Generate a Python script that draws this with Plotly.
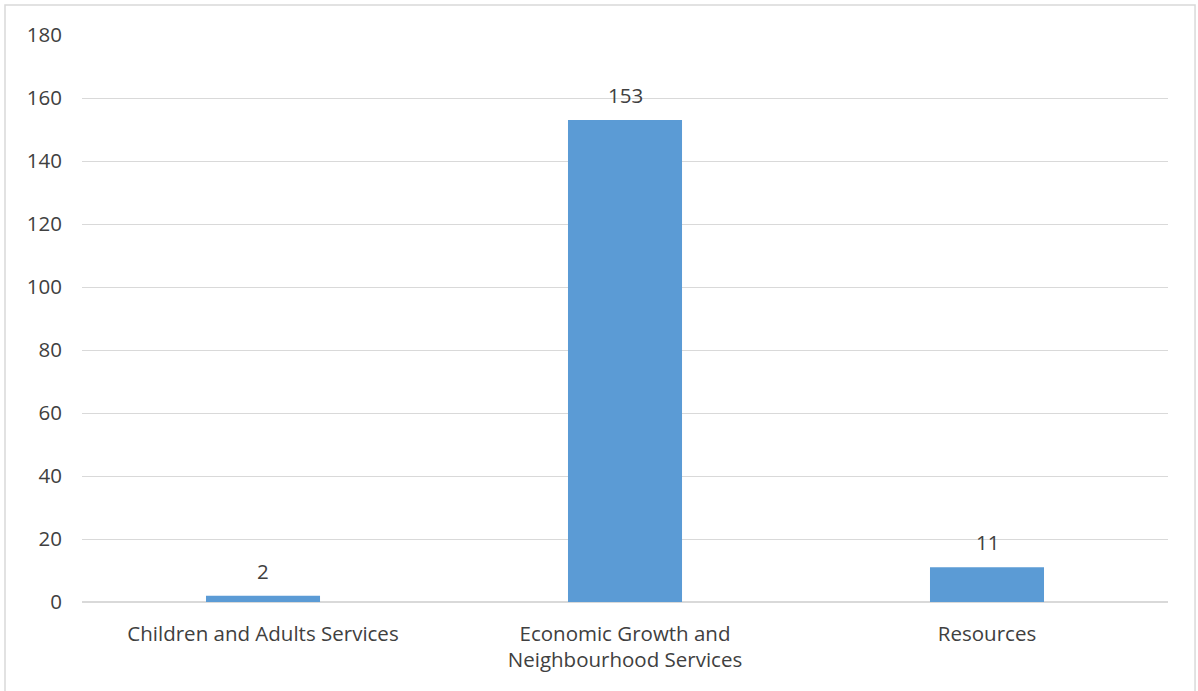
import plotly.graph_objects as go

categories = ["Children and Adults Services", "Economic Growth and<br>Neighbourhood Services", "Resources"]
values = [2, 153, 11]
y_ticks = [0, 20, 40, 60, 80, 100, 120, 140, 160, 180]

FONT = "Open Sans"
SIZE = 20.5
TEXT = "#404040"
GRID = "#d9d9d9"

fig = go.Figure(
    go.Bar(
        x=categories,
        y=values,
        marker=dict(color="#5B9BD5", line=dict(width=0)),
        hoverinfo="x+y",
    )
)

# value labels above each bar
for c, v in zip(categories, values):
    fig.add_annotation(
        x=c, y=v, text=str(v), showarrow=False,
        yanchor="bottom", yshift=9,
        font=dict(family=FONT, size=SIZE, color=TEXT),
    )

# light frame around the whole chart area
fig.add_shape(
    type="rect", xref="paper", yref="paper",
    x0=-0.0709, x1=1.0249, y0=-0.17, y1=1.0529,
    line=dict(color=GRID, width=1.5), fillcolor="rgba(0,0,0,0)", layer="below",
)

fig.update_layout(
    width=1198, height=691,
    margin=dict(l=82, r=30, t=35, b=89),
    paper_bgcolor="white", plot_bgcolor="white",
    bargap=0.685,
    showlegend=False,
    font=dict(family=FONT, size=SIZE, color=TEXT),
    xaxis=dict(
        showgrid=False, showline=False, ticks="", zeroline=False,
        ticklabelstandoff=17,
        tickfont=dict(family=FONT, size=SIZE, color=TEXT),
    ),
    yaxis=dict(
        range=[0, 180], tickvals=y_ticks,
        showgrid=True, gridcolor=GRID, gridwidth=1.3,
        zeroline=True, zerolinecolor=GRID, zerolinewidth=1.5,
        showline=False, ticks="", ticklabelstandoff=19,
        tickfont=dict(family=FONT, size=SIZE, color=TEXT),
    ),
)

fig.write_html("out.html")
